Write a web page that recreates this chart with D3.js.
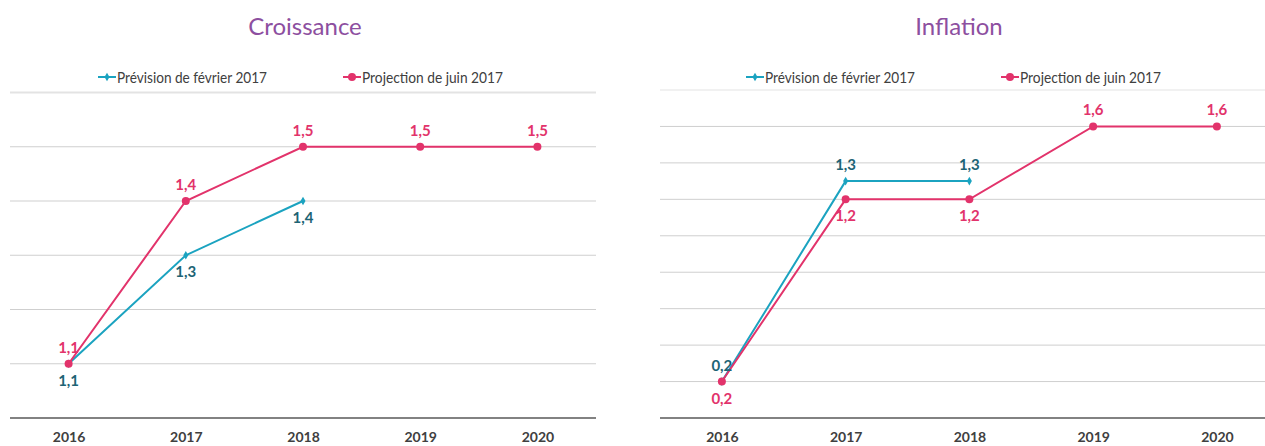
<!DOCTYPE html>
<html>
<head>
<meta charset="utf-8">
<script src="https://cdn.jsdelivr.net/npm/d3@7"></script>
<style>
  html, body { margin: 0; padding: 0; background: #fff; }
  svg { display: block; font-family: Lato, "Open Sans", sans-serif; }
</style>
</head>
<body>
<svg id="chart" width="1265" height="446"></svg>
<script>
// Years on the horizontal axis
const years = ["2016", "2017", "2018", "2019", "2020"];

// Croissance (%)
const croissanceFevrier = [1.1, 1.3, 1.4];
const croissanceJuin = [1.1, 1.4, 1.5, 1.5, 1.5];
const croissanceTicks = [1.1, 1.2, 1.3, 1.4, 1.5, 1.6];

// Inflation (%)
const inflationFevrier = [0.2, 1.3, 1.3];
const inflationJuin = [0.2, 1.2, 1.2, 1.6, 1.6];
const inflationTicks = [0.2, 0.4, 0.6, 0.8, 1.0, 1.2, 1.4, 1.6, 1.8];

const seriesNames = ["Prévision de février 2017", "Projection de juin 2017"];

const COL_TEAL = "#1ba3c0";
const COL_TEAL_LABEL = "#1d6475";
const COL_PINK = "#e2336b";
const COL_TITLE = "#8d4fa0";
const COL_TEXT = "#404040";

const fmt = v => d3.format(".1f")(v).replace(".", ",");

const svg = d3.select("#chart");

function panel(cfg) {
  const g = svg.append("g");
  const x = d3.scalePoint().domain(years).range(cfg.xRange).padding(0.5);
  const y = d3.scaleLinear().domain(cfg.yDomain).range([418, cfg.yTop]);

  // title
  g.append("text")
    .attr("x", cfg.titleX).attr("y", 35)
    .attr("text-anchor", "middle")
    .attr("fill", COL_TITLE)
    .attr("font-size", 24)
    .text(cfg.title);

  // gridlines
  const ticks = cfg.ticks;
  g.selectAll("line.grid").data(ticks).join("line")
    .attr("class", "grid")
    .attr("x1", cfg.xRange[0]).attr("x2", cfg.xRange[1])
    .attr("y1", d => y(d)).attr("y2", d => y(d))
    .attr("stroke", (d, i) => i === ticks.length - 1 ? "#e3e3e3" : "#cfcfcf")
    .attr("stroke-width", (d, i) => i === ticks.length - 1 ? cfg.topWidth : 1);

  // x axis
  const xAxis = g.append("g")
    .attr("transform", "translate(0,418)")
    .call(d3.axisBottom(x).tickSize(0).tickPadding(14));
  xAxis.select(".domain")
    .attr("d", `M${cfg.xRange[0]},0H${cfg.xRange[1]}`)
    .attr("stroke", "#595959").attr("stroke-width", 1.6);
  xAxis.selectAll("text")
    .attr("fill", COL_TEXT)
    .attr("font-size", 14)
    .attr("font-weight", "bold")
    .attr("font-family", "Lato, sans-serif");

  const line = d3.line().x((d, i) => x(years[i])).y(d => y(d));

  // février series (teal, diamonds)
  g.append("path").datum(cfg.fev)
    .attr("fill", "none").attr("stroke", COL_TEAL).attr("stroke-width", 2)
    .attr("d", line);
  g.selectAll("path.dia").data(cfg.fev).join("path")
    .attr("class", "dia")
    .attr("transform", (d, i) => `translate(${x(years[i])},${y(d)})`)
    .attr("d", d3.symbol(d3.symbolDiamond, 22))
    .attr("fill", COL_TEAL);

  // juin series (pink, circles)
  g.append("path").datum(cfg.juin)
    .attr("fill", "none").attr("stroke", COL_PINK).attr("stroke-width", 2)
    .attr("d", line);
  g.selectAll("circle.pt").data(cfg.juin).join("circle")
    .attr("class", "pt")
    .attr("cx", (d, i) => x(years[i])).attr("cy", d => y(d))
    .attr("r", 4).attr("fill", COL_PINK);

  // data labels
  g.selectAll("text.lf").data(cfg.fev).join("text")
    .attr("class", "lf")
    .attr("x", (d, i) => x(years[i]))
    .attr("y", (d, i) => y(d) + (cfg.fevPos[i] > 0 ? 22 : -11))
    .attr("text-anchor", "middle")
    .attr("font-size", 15).attr("font-weight", "bold")
    .attr("fill", COL_TEAL_LABEL)
    .text(fmt);
  g.selectAll("text.lj").data(cfg.juin).join("text")
    .attr("class", "lj")
    .attr("x", (d, i) => x(years[i]))
    .attr("y", (d, i) => y(d) + (cfg.juinPos[i] > 0 ? 22 : -11))
    .attr("text-anchor", "middle")
    .attr("font-size", 15).attr("font-weight", "bold")
    .attr("fill", COL_PINK)
    .text(fmt);

  // legend
  const leg = g.append("g").attr("font-size", 15).attr("fill", COL_TEXT);
  cfg.legendX.forEach((lx, i) => {
    const color = i === 0 ? COL_TEAL : COL_PINK;
    leg.append("line")
      .attr("x1", lx).attr("x2", lx + 18)
      .attr("y1", 77).attr("y2", 77)
      .attr("stroke", color).attr("stroke-width", 2);
    if (i === 0) {
      leg.append("path")
        .attr("transform", `translate(${lx + 9},77)`)
        .attr("d", d3.symbol(d3.symbolDiamond, 22))
        .attr("fill", color);
    } else {
      leg.append("circle")
        .attr("cx", lx + 9).attr("cy", 77).attr("r", 4)
        .attr("fill", color);
    }
    leg.append("text")
      .attr("x", lx + 19).attr("y", 82.5)
      .attr("textLength", i === 0 ? 150 : 141)
      .attr("lengthAdjust", "spacingAndGlyphs")
      .text(seriesNames[i]);
  });
}

panel({
  title: "Croissance", titleX: 305,
  xRange: [10, 596], yDomain: [1.0, 1.6], yTop: 92.5,
  ticks: croissanceTicks, topWidth: 2,
  fev: croissanceFevrier, juin: croissanceJuin,
  fevPos: [1, 1, 1], juinPos: [-1, -1, -1, -1, -1],
  legendX: [98, 343]
});

panel({
  title: "Inflation", titleX: 959,
  xRange: [660, 1278.75], yDomain: [0, 1.8], yTop: 90,
  ticks: inflationTicks, topWidth: 1,
  fev: inflationFevrier, juin: inflationJuin,
  fevPos: [-1, -1, -1], juinPos: [1, 1, 1, -1, -1],
  legendX: [746, 1001]
});
</script>
</body>
</html>
